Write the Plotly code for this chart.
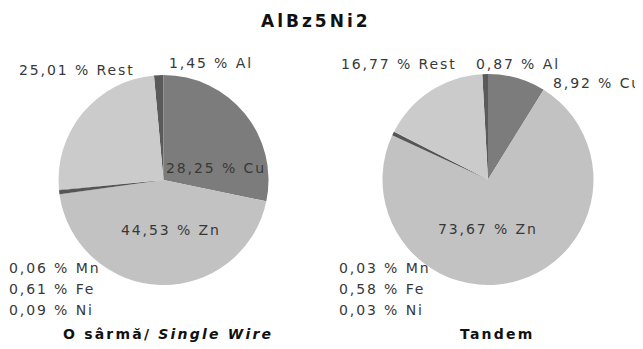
import plotly.graph_objects as go

# ---- data ----
elements = ["Al", "Cu", "Zn", "Mn", "Fe", "Ni", "Rest"]
single_wire = [1.45, 28.25, 44.53, 0.06, 0.61, 0.09, 25.01]
tandem = [0.87, 8.92, 73.67, 0.03, 0.58, 0.03, 16.77]
title_text = "AlBz5Ni2"
subtitles = ["O sârmă/ <i>Single Wire</i>", "Tandem"]

# ---- styles ----
colors = ["#5a5a5a", "#7c7c7c", "#c2c2c2", "#707070", "#555555", "#8c8c8c", "#cbcbcb"]
FONT = "DejaVu Sans"
TXT = "#383838"
OFF = 8  # page body margin in the browser
W, H = 643 - OFF, 349 - OFF


def px(x):
    return (x - OFF) / W


def py(y):
    return 1 - (y - OFF) / H


def fmt(v):
    return ("%.2f" % v).replace(".", ",")


def lab(v, name):
    return '<span style="letter-spacing:1.9px">%s %% %s</span>' % (fmt(v), name)


def start_rot(vals):
    return -vals[0] / sum(vals) * 360.0


fig = go.Figure()
# pie domains in reference pixels: (x0, x1), (ytop, ybottom)
doms = [((58, 269), (75, 285)), ((382, 594), (74, 285))]
for vals, (dx, dy), nm in zip([single_wire, tandem], doms, ["O sârmă", "Tandem"]):
    fig.add_trace(go.Pie(
        labels=elements, values=vals, sort=False, direction="clockwise",
        rotation=start_rot(vals),
        marker=dict(colors=colors, line=dict(width=0)),
        textinfo="none", hoverinfo="label+value", showlegend=False, name=nm,
        domain=dict(x=[px(dx[0]), px(dx[1])], y=[py(dy[1]), py(dy[0])]),
    ))

# label positions (reference pixel coords, top-left origin) and anchors
pos_left = {
    "Al": (167, 63, "left"), "Cu": (164, 168, "left"), "Zn": (171, 230, "center"),
    "Mn": (7, 268, "left"), "Fe": (7, 289, "left"), "Ni": (7, 310, "left"),
    "Rest": (137, 70, "right"),
}
pos_right = {
    "Al": (474, 64, "left"), "Cu": (551, 83, "left"), "Zn": (488, 229, "center"),
    "Mn": (337, 268, "left"), "Fe": (337, 289, "left"), "Ni": (337, 310, "left"),
    "Rest": (459, 64, "right"),
}

annos = []
for vals, pos in [(single_wire, pos_left), (tandem, pos_right)]:
    for name, v in zip(elements, vals):
        x, y, anc = pos[name]
        annos.append(dict(
            text=lab(v, name), x=px(x), y=py(y), xref="paper", yref="paper",
            xanchor=anc, yanchor="middle", showarrow=False,
            font=dict(family=FONT, size=14, color=TXT),
        ))

annos.append(dict(
    text='<b><span style="letter-spacing:3px">%s</span></b>' % title_text,
    x=px(316), y=py(21), xref="paper", yref="paper",
    xanchor="center", yanchor="middle", showarrow=False,
    font=dict(family=FONT, size=17, color="#111111"),
))
for st, cx in zip(subtitles, [168, 497]):
    annos.append(dict(
        text='<b><span style="letter-spacing:2.2px">%s</span></b>' % st,
        x=px(cx), y=py(334), xref="paper", yref="paper",
        xanchor="center", yanchor="middle", showarrow=False,
        font=dict(family=FONT, size=14, color="#111111"),
    ))

fig.update_layout(
    width=W, height=H, margin=dict(l=0, r=0, t=0, b=0),
    paper_bgcolor="white", plot_bgcolor="white",
    annotations=annos,
)

fig.write_html("out.html")
